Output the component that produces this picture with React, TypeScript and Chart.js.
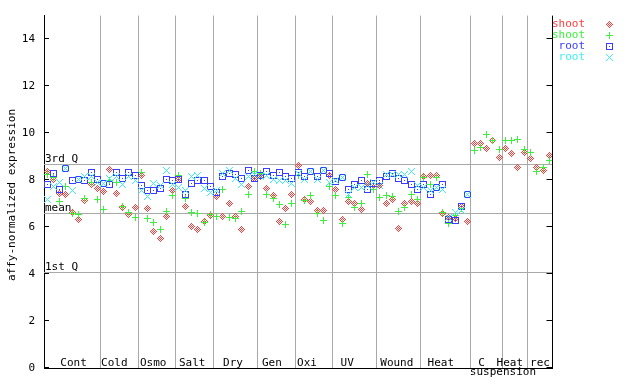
import React, { useEffect, useRef } from 'react';
import { Chart, registerables } from 'chart.js';

Chart.register(...registerables);

// ---------- data ----------
const groupNames = ['Cont', 'Cold', 'Osmo', 'Salt', 'Dry', 'Gen', 'Oxi', 'UV', 'Wound', 'Heat', 'C', 'Heat', 'rec'];
const groupSizes = [9, 6, 6, 6, 7, 6, 6, 7, 7, 8, 5, 4, 4];
const groupLabelAt = [4.2, 10.7, 16.9, 23.1, 29.6, 35.8, 41.4, 47.8, 55.7, 62.7, 69.2, 73.7, 78.5];
const subLabel = 'suspension';
const subLabelAt = 72.6;

const yTicks = [0, 2, 4, 6, 8, 10, 12, 14];
const refLabels = ['3rd Q', 'mean', '1st Q'];
const refValues = [8.67, 6.62, 4.08];

const shootRep1 = [
  8.39, 8.05, 7.44, 7.41, 6.64, 6.33, 7.13, 7.83, 7.66,
  7.52, 8.46, 7.45, 6.85, 6.54, 6.85,
  8.22, 6.78, 5.80, 5.51, 6.46, 7.55,
  8.04, 6.90, 6.03, 5.89, 6.26, 6.50,
  7.30, 6.44, 6.99, 6.45, 5.89, 7.75, 8.07,
  8.14, 7.66, 7.34, 6.26, 6.78, 7.38,
  8.64, 7.20, 7.10, 6.70, 6.70, 8.20,
  7.62, 6.33, 7.09, 7.02, 6.74, 7.87, 7.76,
  7.76, 7.03, 7.16, 5.94, 7.02, 7.10, 6.99,
  8.18, 8.22, 8.22, 6.60, 6.43, 6.36, 6.87, 6.26,
  9.55, 9.56, 9.36, 9.68, 8.98,
  9.35, 9.13, 8.56, 9.20,
  8.92, 8.53, 8.42, 9.06,
];
const shootRep2 = [
  8.25, 8.11, 7.11, 7.75, 6.60, 6.54, 7.24, 7.90, 7.20,
  6.74, 8.00, 7.90, 6.90, 6.61, 6.40,
  8.32, 6.36, 6.20, 5.89, 6.68, 7.34,
  8.20, 7.24, 6.61, 6.58, 6.19, 6.54,
  6.44, 7.62, 6.43, 6.38, 6.68, 7.41, 8.36,
  8.30, 7.41, 7.23, 6.95, 6.11, 6.99,
  8.22, 7.13, 7.34, 6.57, 6.29, 7.72,
  7.34, 6.15, 7.27, 6.85, 7.03, 8.25, 7.62,
  7.27, 7.37, 7.30, 6.68, 6.85, 7.40, 7.20,
  8.11, 7.80, 8.11, 6.64, 6.15, 6.50, 6.80, null,
  9.28, 9.39, 9.94, 9.70, 9.30,
  9.70, 9.68, 9.72, 9.30,
  9.16, 8.36, 8.56, 8.84,
];
const rootRep1 = [
  7.80, 8.29, 7.62, 8.50, 8.00, 8.04, 7.97, 8.32, 8.04,
  7.87, 7.83, 8.32, 8.08, 8.35, 8.20,
  7.76, 7.55, 7.58, 7.66, 8.04, 8.00,
  8.04, 7.41, 7.87, 8.00, 8.00, 7.72,
  7.50, 8.18, 8.29, 8.24, 8.08, 8.42, 8.07,
  8.21, 8.36, 8.20, 8.32, 8.14, 8.08,
  8.32, 8.15, 8.39, 8.15, 8.42, 8.29,
  7.94, 8.11, 7.59, 7.83, 8.00, 7.62, 7.87,
  8.00, 8.14, 8.28, 8.08, 8.00, 7.80, 7.62,
  7.83, 7.38, 7.69, 7.80, 6.31, 6.29, 6.87, 7.38,
  null, null, null, null, null,
  null, null, null, null,
  null, null, null, null,
];
const rootRep2 = [
  7.16, 7.75, 7.91, 8.50, 7.58, 8.04, 8.15, 8.15, 7.90,
  7.87, 8.08, 8.14, 7.80, 8.15, 8.00,
  7.58, 7.30, 7.86, 7.76, 8.42, 7.83,
  7.70, 7.58, 8.14, 8.22, 7.66, 7.48,
  7.55, 8.29, 8.42, 8.07, 7.83, 8.14, 8.25,
  8.15, 8.20, 8.04, 7.97, 8.00, 7.87,
  8.30, 8.04, 8.39, 8.04, 8.42, 7.90,
  8.00, 8.11, 7.40, 7.70, 7.69, 7.76, 7.90,
  7.76, 8.25, 8.25, 8.25, 8.25, 8.36, 7.76,
  7.70, 7.55, 7.69, 7.62, 6.43, 6.64, 6.71, 7.38,
  null, null, null, null, null,
  null, null, null, null,
  null, null, null, null,
];

const seriesLabels = ['shoot', 'shoot', 'root', 'root'];

// ---------- styles ----------
const FONT = '"DejaVu Sans Mono", monospace';
const COLORS = ['#ff3c3c', '#3cf03c', '#3c3cff', '#3cf0f0'];
const GRID = '#a8a8a8';
const SPRITE_ROWS: string[][] = [
  ['...X...', '..X.X..', '.X.X.X.', 'X.X.X.X', '.X.X.X.', '..X.X..', '...X...'],
  ['...X...', '...X...', '...X...', 'XXXXXXX', '...X...', '...X...', '...X...'],
  ['XXXXXXX', 'X.....X', 'X.....X', 'X..X..X', 'X.....X', 'X.....X', 'XXXXXXX'],
  ['X.....X', '.X...X.', '..X.X..', '...X...', '..X.X..', '.X...X.', 'X.....X'],
];

function makeSprite(rows: string[], color: string) {
  const c = document.createElement('canvas');
  c.width = rows[0].length;
  c.height = rows.length;
  const g = c.getContext('2d')!;
  g.fillStyle = color;
  rows.forEach((r, y) => {
    for (let x = 0; x < r.length; x++) if (r[x] === 'X') g.fillRect(x, y, 1, 1);
  });
  return c;
}

export default function App() {
  const ref = useRef<HTMLCanvasElement | null>(null);

  useEffect(() => {
    document.body.style.margin = '0';
    const canvas = ref.current!;
    const sprites = SPRITE_ROWS.map((r, i) => makeSprite(r, COLORS[i]));
    const allSeries = [shootRep1, shootRep2, rootRep1, rootRep2];
    const total = groupSizes.reduce((a, b) => a + b, 0);
    const boundaries: number[] = [];
    let acc = 0;
    groupSizes.forEach((s, i) => {
      acc += s;
      if (i < groupSizes.length - 1) boundaries.push(acc - 0.5);
    });

    const datasets = allSeries.map((arr, si) => ({
      label: seriesLabels[si],
      data: arr
        .map((v, i) => (v == null ? null : { x: i, y: v }))
        .filter((p) => p !== null) as { x: number; y: number }[],
      pointStyle: sprites[si],
      pointRadius: 3,
      showLine: false,
      order: 4 - si,
    }));

    const decor = {
      id: 'decor',
      beforeDraw(chart: any) {
        chart.ctx.imageSmoothingEnabled = false;
      },
      beforeDatasetsDraw(chart: any) {
        const { ctx, chartArea: a, scales } = chart;
        const y = scales.y;
        ctx.save();
        ctx.strokeStyle = GRID;
        ctx.lineWidth = 1;
        refValues.forEach((v) => {
          const py = Math.round(y.getPixelForValue(v)) + 0.5;
          ctx.beginPath();
          ctx.moveTo(a.left, py);
          ctx.lineTo(a.right, py);
          ctx.stroke();
        });
        ctx.fillStyle = '#000';
        ctx.font = `11px ${FONT}`;
        ctx.textAlign = 'left';
        ctx.textBaseline = 'alphabetic';
        refLabels.forEach((t, i) => {
          const py = Math.round(y.getPixelForValue(refValues[i]));
          ctx.fillText(t, a.left + 1, py - 2);
        });
        ctx.restore();
        ctx.imageSmoothingEnabled = false;
      },
      afterDraw(chart: any) {
        const { ctx, chartArea: a, scales } = chart;
        const y = scales.y;
        const x = scales.x;
        ctx.save();
        ctx.strokeStyle = '#000';
        ctx.lineWidth = 1;
        // right border
        const rx = Math.round(a.right) - 0.5;
        ctx.beginPath();
        ctx.moveTo(rx, a.top);
        ctx.lineTo(rx, a.bottom);
        ctx.stroke();
        // inner ticks
        yTicks.forEach((v) => {
          const py = Math.round(y.getPixelForValue(v)) - 0.5;
          ctx.beginPath();
          ctx.moveTo(a.left, py);
          ctx.lineTo(a.left + 5, py);
          ctx.moveTo(a.right - 6, py);
          ctx.lineTo(a.right, py);
          ctx.stroke();
        });
        // group labels
        ctx.fillStyle = '#000';
        ctx.font = `11px ${FONT}`;
        ctx.textAlign = 'center';
        ctx.textBaseline = 'alphabetic';
        groupNames.forEach((g, i) => {
          ctx.fillText(g, x.getPixelForValue(groupLabelAt[i]), a.bottom - 2);
        });
        ctx.fillText(subLabel, x.getPixelForValue(subLabelAt), a.bottom + 7);
        // y title
        ctx.save();
        ctx.translate(12, 195);
        ctx.rotate(-Math.PI / 2);
        ctx.textBaseline = 'middle';
        ctx.fillText('affy-normalized expression', 0, 0);
        ctx.restore();
        // legend
        ctx.textAlign = 'right';
        ctx.textBaseline = 'middle';
        ctx.imageSmoothingEnabled = false;
        seriesLabels.forEach((t, i) => {
          const ly = 24 + i * 11;
          ctx.fillStyle = COLORS[i];
          ctx.fillText(t, 585, ly);
          ctx.drawImage(sprites[i], 606, ly - 3);
        });
        ctx.restore();
      },
    };

    const chart = new Chart(canvas, {
      type: 'scatter',
      data: { datasets },
      options: {
        responsive: false,
        animation: false,
        events: [],
        layout: { autoPadding: false, padding: { left: 0, right: 87.5, top: 14, bottom: 14.5 } },
        plugins: { legend: { display: false }, tooltip: { enabled: false } },
        scales: {
          x: {
            type: 'linear',
            min: -0.5,
            max: total - 0.5,
            afterBuildTicks: (s: any) => {
              s.ticks = boundaries.map((v) => ({ value: v }));
            },
            afterFit: (s: any) => {
              s.height = 0;
            },
            ticks: { display: false },
            grid: { display: true, color: GRID, lineWidth: 1, drawTicks: false },
            border: { display: true, color: '#000', width: 1 },
          },
          y: {
            type: 'linear',
            min: 0,
            max: 15,
            afterBuildTicks: (s: any) => {
              s.ticks = yTicks.map((v) => ({ value: v }));
            },
            afterFit: (s: any) => {
              s.width = 44;
            },
            ticks: { color: '#000', padding: 9, font: { family: FONT, size: 11 } },
            grid: { display: false, drawTicks: false },
            border: { display: true, color: '#000', width: 1 },
          },
        },
      },
      plugins: [decor],
    } as any);

    return () => chart.destroy();
  }, []);

  return (
    <div style={{ width: 640, height: 384 }}>
      <canvas ref={ref} width={640} height={384} />
    </div>
  );
}
